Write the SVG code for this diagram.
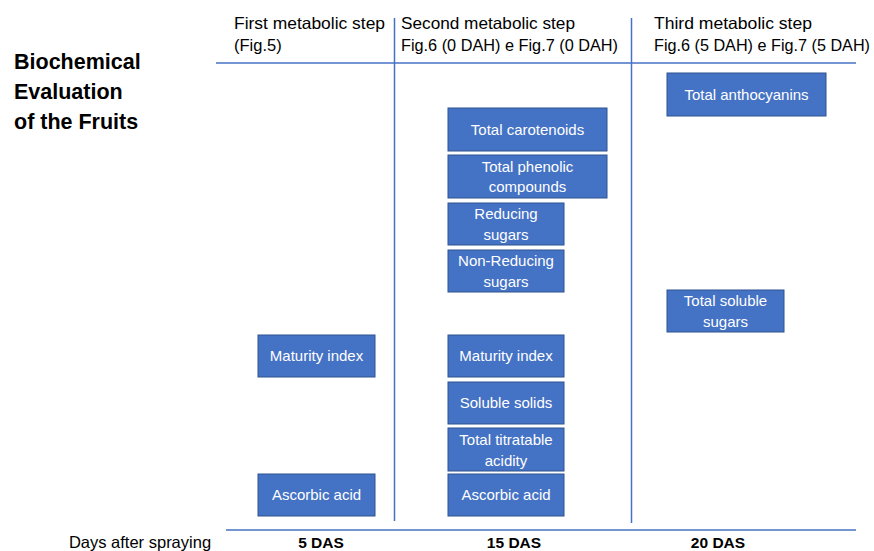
<svg xmlns="http://www.w3.org/2000/svg" width="874" height="551" viewBox="0 0 874 551">
<style>
text{font-family:"Liberation Sans",Arial,sans-serif}
.box rect{fill:#4472C4;stroke:#2F528F;stroke-width:1}
.box text{fill:#fff;font-size:15px;text-anchor:middle}
.hdr{font-size:16.5px;fill:#000}
.ln{stroke:#4472C4;stroke-width:1.5;fill:none}
.title{font-size:21.5px;font-weight:bold;fill:#000}
.das{font-size:15.5px;font-weight:bold;text-anchor:middle}
</style>
<rect width="874" height="551" fill="#fff"/>
<g id="connectors">
<line class="ln" x1="216" y1="63" x2="856" y2="63"/>
<line class="ln" x1="394.5" y1="18" x2="394.5" y2="521"/>
<line class="ln" x1="631.5" y1="18" x2="631.5" y2="523"/>
<line class="ln" x1="226" y1="530" x2="856" y2="530" stroke-width="2"/>
</g>
<g id="title">
<text class="title" x="14" y="69">Biochemical</text>
<text class="title" x="14" y="99">Evaluation</text>
<text class="title" x="14" y="129">of the Fruits</text>
</g>
<g id="headers">
<text class="hdr" x="234" y="29" textLength="151" lengthAdjust="spacingAndGlyphs">First metabolic step</text>
<text class="hdr" x="234" y="51">(Fig.5)</text>
<text class="hdr" x="401" y="29" textLength="174" lengthAdjust="spacingAndGlyphs">Second metabolic step</text>
<text class="hdr" x="401" y="51" textLength="217" lengthAdjust="spacingAndGlyphs">Fig.6 (0 DAH) e Fig.7 (0 DAH)</text>
<text class="hdr" x="654" y="29" textLength="158" lengthAdjust="spacingAndGlyphs">Third metabolic step</text>
<text class="hdr" x="654" y="51" textLength="216" lengthAdjust="spacingAndGlyphs">Fig.6 (5 DAH) e Fig.7 (5 DAH)</text>
</g>
<g id="n-anthocyanins" class="box"><rect x="667" y="73" width="159" height="43"/><text x="746.5" y="100">Total anthocyanins</text></g>
<g id="n-carotenoids" class="box"><rect x="448" y="108" width="159" height="43"/><text x="527.5" y="135">Total carotenoids</text></g>
<g id="n-phenolic" class="box"><rect x="448" y="155" width="159" height="43"/><text x="527.5" y="172">Total phenolic</text><text x="527.5" y="192">compounds</text></g>
<g id="n-reducing" class="box"><rect x="448" y="203" width="116" height="42"/><text x="506" y="219">Reducing</text><text x="506" y="240">sugars</text></g>
<g id="n-nonreducing" class="box"><rect x="448" y="250" width="116" height="42"/><text x="506" y="266">Non-Reducing</text><text x="506" y="287">sugars</text></g>
<g id="n-soluble-sugars" class="box"><rect x="667" y="290" width="117" height="42"/><text x="725.5" y="306">Total soluble</text><text x="725.5" y="327">sugars</text></g>
<g id="n-maturity1" class="box"><rect x="258" y="335" width="117" height="42"/><text x="316.5" y="361">Maturity index</text></g>
<g id="n-maturity2" class="box"><rect x="448" y="335" width="116" height="42"/><text x="506" y="361">Maturity index</text></g>
<g id="n-solids" class="box"><rect x="448" y="382" width="116" height="42"/><text x="506" y="408">Soluble solids</text></g>
<g id="n-acidity" class="box"><rect x="448" y="428" width="116" height="43"/><text x="506" y="445">Total titratable</text><text x="506" y="466">acidity</text></g>
<g id="n-ascorbic1" class="box"><rect x="258" y="474" width="117" height="42"/><text x="316.5" y="500">Ascorbic acid</text></g>
<g id="n-ascorbic2" class="box"><rect x="448" y="474" width="116" height="42"/><text x="506" y="500">Ascorbic acid</text></g>
<g id="axis">
<text x="140" y="548" font-size="16.5" text-anchor="middle">Days after spraying</text>
<text class="das" x="321" y="548">5 DAS</text>
<text class="das" x="514" y="548">15 DAS</text>
<text class="das" x="718" y="548">20 DAS</text>
</g>
</svg>
